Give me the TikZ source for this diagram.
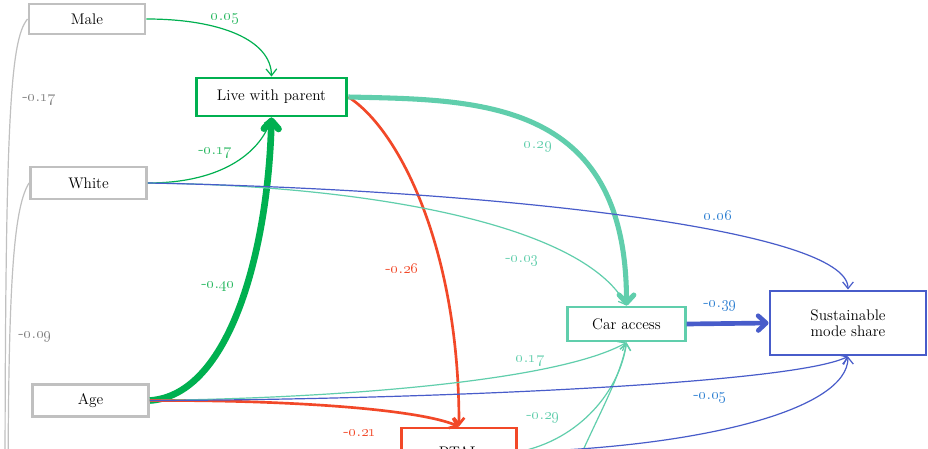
\documentclass[tikz,border=0pt]{standalone}
\usetikzlibrary{arrows.meta}
\definecolor{boxgray}{RGB}{192,192,192}
\definecolor{labgray}{RGB}{128,128,128}
\definecolor{pathgreen}{RGB}{0,176,80}
\definecolor{labgreen}{RGB}{40,184,96}
\definecolor{pathteal}{RGB}{96,206,172}
\definecolor{pathred}{RGB}{242,72,40}
\definecolor{pathblue}{RGB}{72,92,202}
\definecolor{labblue}{RGB}{46,128,210}
\newcommand\coef[2]{\oldstylenums{#1}.\oldstylenums{#2}}
\tikzset{
  var/.style={draw, line width=2.2pt, fill=white, inner sep=2pt, align=center,
    font=\fontsize{11.5}{13}\selectfont},
  coeflab/.style={font=\fontsize{12.5}{13}\selectfont, inner sep=0pt},
  thin tip/.style={-{Straight Barb[length=5pt,width=8pt]}},
  thick tip/.style={-{Straight Barb[length=6pt,width=11pt,round]}},
  path/.style={line width=0.9pt},
}
\begin{document}
\begin{tikzpicture}[x=0.75pt,y=-0.75pt]
\useasboundingbox (0,0) rectangle (928,449);
\clip (0,0) rectangle (928,449);
\fill[white] (0,0) rectangle (928,449);

% exogenous variables
\node[var, draw=boxgray, minimum width=87pt, minimum height=22.5pt] (male) at (87,19) {Male};
\node[var, draw=boxgray, minimum width=87pt, minimum height=24pt] (white) at (88.5,183) {White};
\node[var, draw=boxgray, minimum width=87pt, minimum height=24.5pt] (age) at (90.5,400.5) {Age};

% mediators and outcome
\node[var, draw=pathgreen, minimum width=113pt, minimum height=28.5pt] (live) at (271.5,97) {Live with parent};
\node[var, draw=pathteal, minimum width=88pt, minimum height=25.5pt] (car) at (626.5,324) {Car access};
\node[var, draw=pathblue, minimum width=117pt, minimum height=48pt] (sms) at (848,323)
  {Sustainable\\[-1pt]mode share};
\node[var, draw=pathred, minimum width=86pt, minimum height=36pt] (ptal) at (459,452) {PTAL};

% sources below the visible area
\coordinate (lowA) at (5,520);
\coordinate (lowB) at (8,520);
\coordinate (lowC) at (570,480);

% correlations on the left margin
\draw[boxgray, path] (male.west) .. controls (10,40) and (5,120) .. (lowA);
\draw[boxgray, path] (white.west) .. controls (12,210) and (8,300) .. (lowB);

% paths to living with parents
\draw[pathgreen, path, thin tip] (male.east) .. controls (220,19) and (271,40) .. (live.north);
\draw[pathgreen, path, thin tip] (white.east) .. controls (225,183) and (262,150) .. (live.south);
\draw[pathgreen, line width=5pt, thick tip] (age.east) .. controls (230,395) and (268,250) .. (live.south);

% paths to PTAL
\draw[pathred, line width=2pt, thin tip] (live.east) .. controls (400,130) and (459,250) .. (ptal.north);
\draw[pathred, line width=2pt, thin tip] (age.east) .. controls (300,400) and (420,410) .. (ptal.north);

% paths to car access
\draw[pathteal, line width=3.8pt, thick tip] (live.east) .. controls (475,100) and (626.5,97) .. (car.north);
\draw[pathteal, path, thin tip] (white.east) .. controls (350,185) and (580,220) .. (car.north);
\draw[pathteal, path, thin tip] (age.east) .. controls (350,398) and (560,380) .. (car.south);
\draw[pathteal, path, thin tip] (ptal.east) .. controls (580,440) and (620,390) .. (car.south);
\draw[pathteal, path, thin tip] (lowC) .. controls (595,420) and (620,380) .. (car.south);

% paths to sustainable mode share
\draw[pathblue, path, thin tip] (white.east) .. controls (500,190) and (848,230) .. (sms.north);
\draw[pathblue, line width=3.5pt, thick tip] (car.east) -- (sms.west);
\draw[pathblue, path, thin tip] (age.east) .. controls (400,400) and (790,385) .. (sms.south);
\draw[pathblue, path, thin tip] (ptal.east) .. controls (700,447) and (848,410) .. (sms.south);

% coefficients
\node[coeflab, text=labgray] (cMW) at (39,100) {-\coef{0}{17}};
\node[coeflab, text=labgray] (cWA) at (35,337) {-\coef{0}{09}};
\node[coeflab, text=labgreen] (cML) at (225,19) {\coef{0}{05}};
\node[coeflab, text=labgreen] (cWL) at (215,153) {-\coef{0}{17}};
\node[coeflab, text=labgreen] (cAL) at (218,287) {-\coef{0}{40}};
\node[coeflab, text=pathteal] (cLC) at (538,147) {\coef{0}{29}};
\node[coeflab, text=pathred] (cLP) at (402,268) {-\coef{0}{26}};
\node[coeflab, text=pathteal] (cWC) at (522,261) {-\coef{0}{03}};
\node[coeflab, text=labblue] (cWS) at (718,215) {\coef{0}{06}};
\node[coeflab, text=labblue] (cCS) at (720,306) {-\coef{0}{39}};
\node[coeflab, text=pathteal] (cAC) at (530,361) {\coef{0}{17}};
\node[coeflab, text=labblue] (cAS) at (710,398) {-\coef{0}{05}};
\node[coeflab, text=pathteal] (cPC) at (543,418) {-\coef{0}{29}};
\node[coeflab, text=pathred] (cAP) at (360,433) {-\coef{0}{21}};
\end{tikzpicture}
\end{document}
